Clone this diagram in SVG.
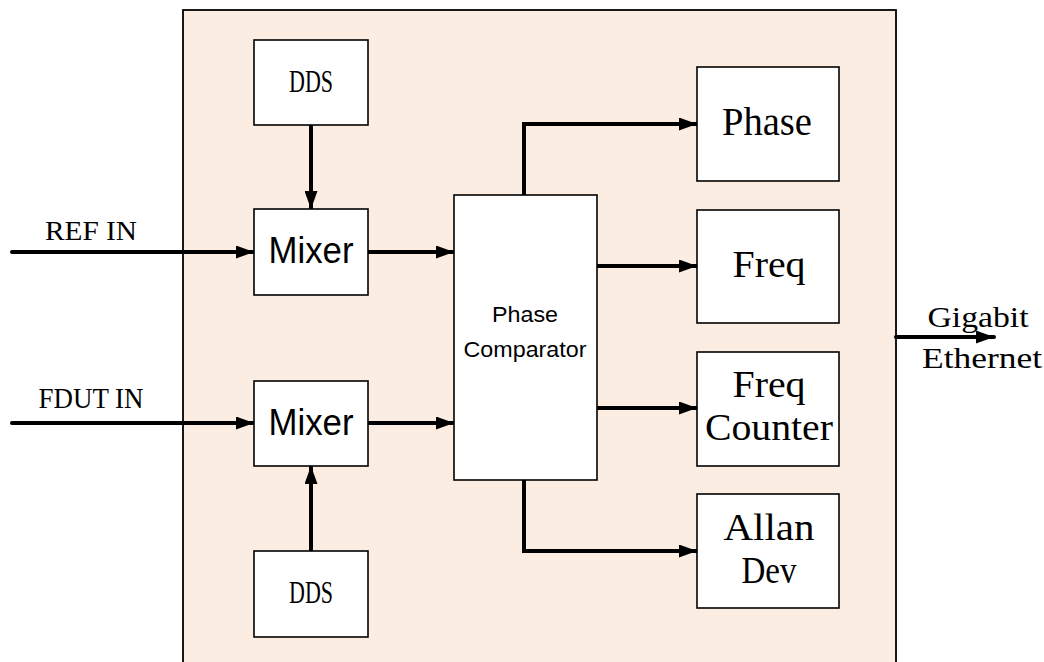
<svg xmlns="http://www.w3.org/2000/svg" width="1044" height="662" viewBox="0 0 1044 662">
  <style>
    .box { fill: #ffffff; stroke: #000000; stroke-width: 1.6; }
    .frame { fill: #fcede3; stroke: #000000; stroke-width: 1.8; }
    .wire { fill: none; stroke: #000000; stroke-width: 4; stroke-linecap: round; stroke-linejoin: miter; }
    .serif { font-family: "Liberation Serif", "DejaVu Serif", serif; fill: #000000; }
    .sans { font-family: "Liberation Sans", Arial, sans-serif; fill: #000000; }
  </style>
  <defs>
    <marker id="arrow" markerUnits="userSpaceOnUse" viewBox="0 0 18 13" refX="18" refY="6.5" markerWidth="18" markerHeight="13" orient="auto">
      <path d="M0,0 L18,6.5 L0,13 Z" fill="#000000"/>
    </marker>
  </defs>

  <!-- instrument enclosure -->
  <rect id="enclosure" class="frame" x="183" y="10" width="713" height="670"/>

  <!-- signal paths -->
  <g id="connectors">
    <line class="wire" x1="12" y1="252" x2="254" y2="252" marker-end="url(#arrow)"/>
    <line class="wire" x1="12" y1="423" x2="254" y2="423" marker-end="url(#arrow)"/>
    <line class="wire" x1="311" y1="125" x2="311" y2="209" marker-end="url(#arrow)"/>
    <line class="wire" x1="311" y1="551" x2="311" y2="466" marker-end="url(#arrow)"/>
    <line class="wire" x1="368" y1="252" x2="454" y2="252" marker-end="url(#arrow)"/>
    <line class="wire" x1="368" y1="423" x2="454" y2="423" marker-end="url(#arrow)"/>
    <polyline class="wire" points="524,195 524,124 697,124" marker-end="url(#arrow)"/>
    <line class="wire" x1="597" y1="266" x2="697" y2="266" marker-end="url(#arrow)"/>
    <line class="wire" x1="597" y1="408" x2="697" y2="408" marker-end="url(#arrow)"/>
    <polyline class="wire" points="524,480 524,551 697,551" marker-end="url(#arrow)"/>
    <line class="wire" x1="896" y1="337" x2="994" y2="337" marker-end="url(#arrow)"/>
  </g>

  <!-- port labels -->
  <g id="ref-in-label">
    <text class="serif" x="91" y="240" font-size="27" text-anchor="middle" textLength="92" lengthAdjust="spacingAndGlyphs">REF IN</text>
  </g>
  <g id="fdut-in-label">
    <text class="serif" x="91" y="408" font-size="29" text-anchor="middle" textLength="105" lengthAdjust="spacingAndGlyphs">FDUT IN</text>
  </g>
  <g id="gigabit-label">
    <text class="serif" x="978" y="327" font-size="29" text-anchor="middle" textLength="101" lengthAdjust="spacingAndGlyphs">Gigabit</text>
    <text class="serif" x="982" y="368" font-size="29" text-anchor="middle" textLength="120" lengthAdjust="spacingAndGlyphs">Ethernet</text>
  </g>

  <g id="dds-top">
    <rect class="box" x="254" y="40" width="114" height="85"/>
    <text class="serif" x="311" y="92" font-size="31" text-anchor="middle" textLength="44" lengthAdjust="spacingAndGlyphs">DDS</text>
  </g>
  <g id="mixer-top">
    <rect class="box" x="254" y="209" width="114" height="86"/>
    <text class="sans" x="311" y="263" font-size="36" text-anchor="middle" textLength="85" lengthAdjust="spacingAndGlyphs">Mixer</text>
  </g>
  <g id="mixer-bottom">
    <rect class="box" x="254" y="381" width="114" height="85"/>
    <text class="sans" x="311" y="435" font-size="36" text-anchor="middle" textLength="85" lengthAdjust="spacingAndGlyphs">Mixer</text>
  </g>
  <g id="dds-bottom">
    <rect class="box" x="254" y="551" width="114" height="86"/>
    <text class="serif" x="311" y="603" font-size="31" text-anchor="middle" textLength="44" lengthAdjust="spacingAndGlyphs">DDS</text>
  </g>

  <g id="phase-comparator">
    <rect class="box" x="454" y="195" width="143" height="285"/>
    <text class="sans" x="525" y="322" font-size="22" text-anchor="middle" textLength="66" lengthAdjust="spacingAndGlyphs">Phase</text>
    <text class="sans" x="525" y="357" font-size="22" text-anchor="middle" textLength="123" lengthAdjust="spacingAndGlyphs">Comparator</text>
  </g>

  <g id="phase">
    <rect class="box" x="697" y="67" width="142" height="114"/>
    <text class="serif" x="767" y="135" font-size="40" text-anchor="middle" textLength="90" lengthAdjust="spacingAndGlyphs">Phase</text>
  </g>
  <g id="freq">
    <rect class="box" x="697" y="210" width="142" height="113"/>
    <text class="serif" x="769" y="277" font-size="38" text-anchor="middle" textLength="73" lengthAdjust="spacingAndGlyphs">Freq</text>
  </g>
  <g id="freq-counter">
    <rect class="box" x="697" y="352" width="142" height="114"/>
    <text class="serif" x="769" y="397" font-size="38" text-anchor="middle" textLength="73" lengthAdjust="spacingAndGlyphs">Freq</text>
    <text class="serif" x="769" y="440" font-size="38" text-anchor="middle" textLength="128" lengthAdjust="spacingAndGlyphs">Counter</text>
  </g>
  <g id="allan-dev">
    <rect class="box" x="697" y="494" width="142" height="114"/>
    <text class="serif" x="769" y="540" font-size="38" text-anchor="middle" textLength="91" lengthAdjust="spacingAndGlyphs">Allan</text>
    <text class="serif" x="769" y="583" font-size="38" text-anchor="middle" textLength="55" lengthAdjust="spacingAndGlyphs">Dev</text>
  </g>
</svg>
